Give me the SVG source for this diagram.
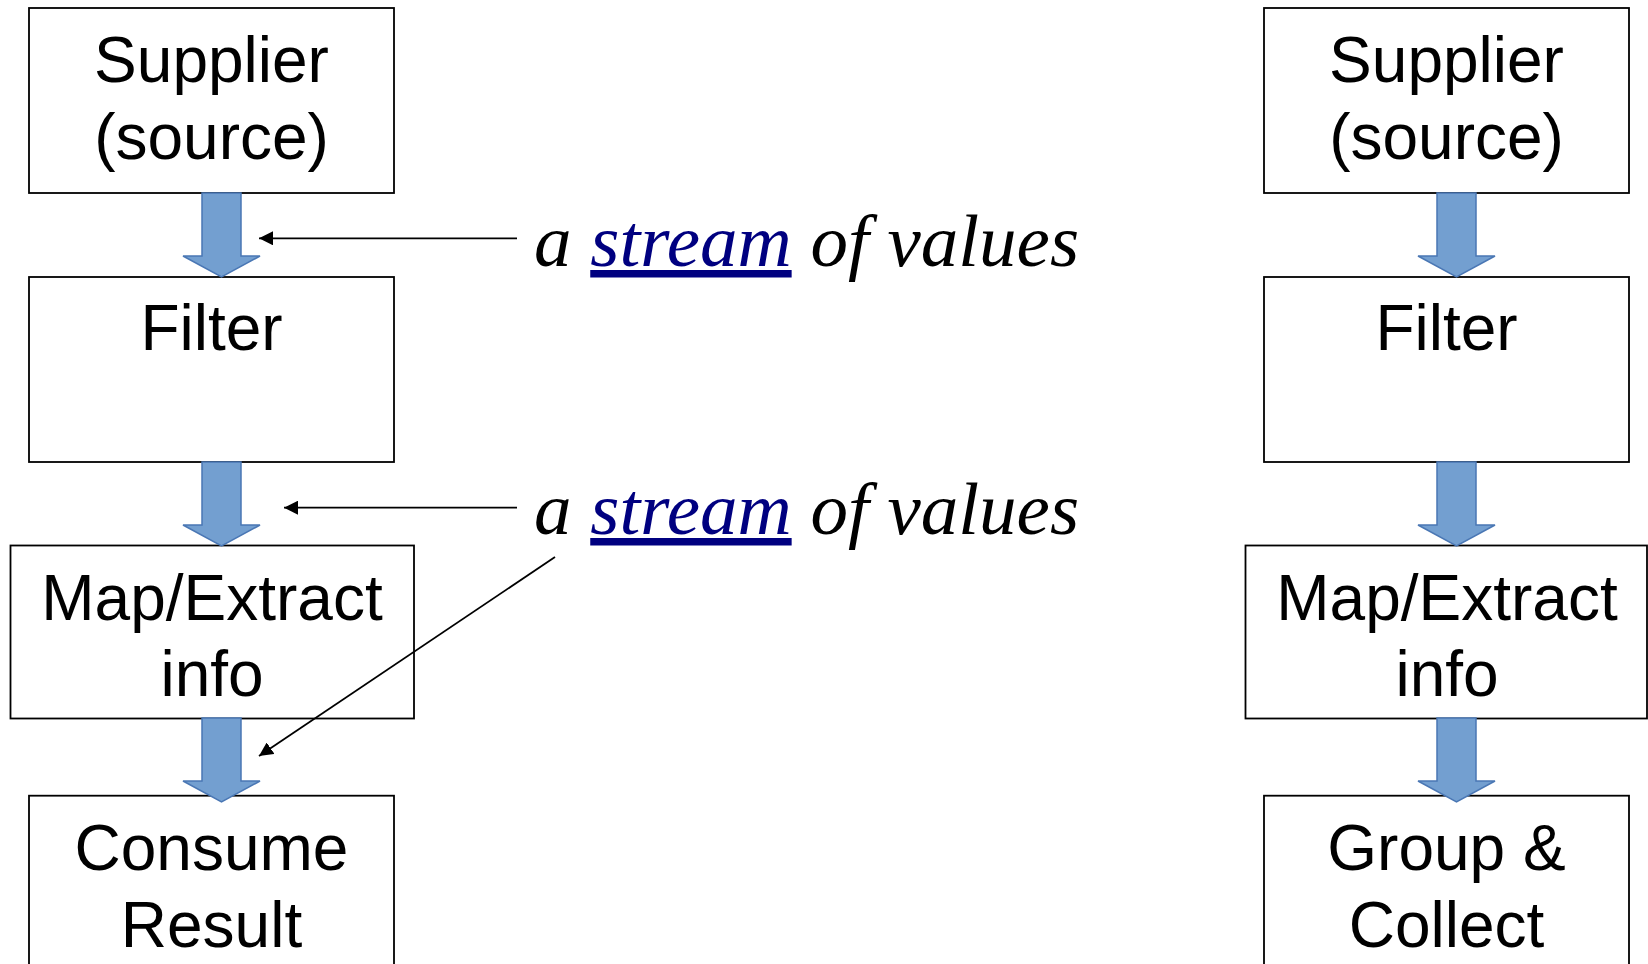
<svg xmlns="http://www.w3.org/2000/svg" width="1648" height="964" viewBox="0 0 1648 964">
  <style>
    .box { fill: #ffffff; stroke: #000000; stroke-width: 1.8; }
    .lbl { font-family: "Liberation Sans", Arial, sans-serif; font-size: 64px; fill: #000000; text-anchor: middle; }
    .flow { fill: #739fd0; stroke: #4a77b4; stroke-width: 1.5; stroke-linejoin: miter; }
    .ptr { stroke: #000000; stroke-width: 1.8; fill: none; marker-end: url(#head); }
    .note { font-family: "Liberation Serif", "Times New Roman", serif; font-style: italic; font-size: 75px; fill: #000000; }
    .link { fill: #000080; text-decoration: underline; }
  </style>
  <defs>
    <marker id="head" viewBox="0 0 10 10" refX="10" refY="5" markerWidth="14" markerHeight="14" markerUnits="userSpaceOnUse" orient="auto">
      <path d="M0,0 L10,5 L0,10 z" fill="#000000"/>
    </marker>
    <!-- block arrow pointing down, origin at shaft top-left -->
    <path id="down" d="M0,0 H39 V63 H58 L19.5,84 L-19,63 H0 Z"/>
  </defs>

  <rect width="1648" height="964" fill="#ffffff"/>

  <!-- left pipeline -->
  <g id="supplier-left">
    <rect class="box" x="29" y="8" width="365" height="185"/>
    <text class="lbl" x="211.5" y="82">Supplier</text>
    <text class="lbl" x="211.5" y="158.5">(source)</text>
  </g>
  <g id="filter-left">
    <rect class="box" x="29" y="277" width="365" height="185"/>
    <text class="lbl" x="211.5" y="350">Filter</text>
  </g>
  <g id="map-left">
    <rect class="box" x="10.5" y="545.5" width="403.5" height="173"/>
    <text class="lbl" x="212" y="619.5">Map/Extract</text>
    <text class="lbl" x="212" y="696">info</text>
  </g>
  <g id="consume-left">
    <rect class="box" x="29" y="795.7" width="365" height="200"/>
    <text class="lbl" x="211.5" y="870">Consume</text>
    <text class="lbl" x="211.5" y="946.5">Result</text>
  </g>

  <!-- right pipeline -->
  <g id="supplier-right">
    <rect class="box" x="1264" y="8" width="365" height="185"/>
    <text class="lbl" x="1446.5" y="82">Supplier</text>
    <text class="lbl" x="1446.5" y="158.5">(source)</text>
  </g>
  <g id="filter-right">
    <rect class="box" x="1264" y="277" width="365" height="185"/>
    <text class="lbl" x="1446.5" y="350">Filter</text>
  </g>
  <g id="map-right">
    <rect class="box" x="1245.5" y="545.5" width="401.5" height="173"/>
    <text class="lbl" x="1447" y="619.5">Map/Extract</text>
    <text class="lbl" x="1447" y="696">info</text>
  </g>
  <g id="group-right">
    <rect class="box" x="1264" y="795.7" width="365" height="200"/>
    <text class="lbl" x="1446.5" y="870">Group &amp;</text>
    <text class="lbl" x="1446.5" y="946.5">Collect</text>
  </g>

  <!-- connectors -->
  <g id="connectors">
    <use href="#down" class="flow" x="202" y="193"/>
    <use href="#down" class="flow" x="202" y="462"/>
    <use href="#down" class="flow" x="202" y="718"/>
    <use href="#down" class="flow" x="1437" y="193"/>
    <use href="#down" class="flow" x="1437" y="462"/>
    <use href="#down" class="flow" x="1437" y="718"/>

    <line class="ptr" x1="517" y1="238.3" x2="259" y2="238.3"/>
    <line class="ptr" x1="517" y1="507.7" x2="284" y2="507.7"/>
    <line class="ptr" x1="555" y1="557" x2="259" y2="756"/>
  </g>

  <!-- annotations -->
  <g id="note-1">
    <text class="note" x="534" y="266">a <tspan class="link">stream</tspan> of values</text>
  </g>
  <g id="note-2">
    <text class="note" x="534" y="534">a <tspan class="link">stream</tspan> of values</text>
  </g>
</svg>
